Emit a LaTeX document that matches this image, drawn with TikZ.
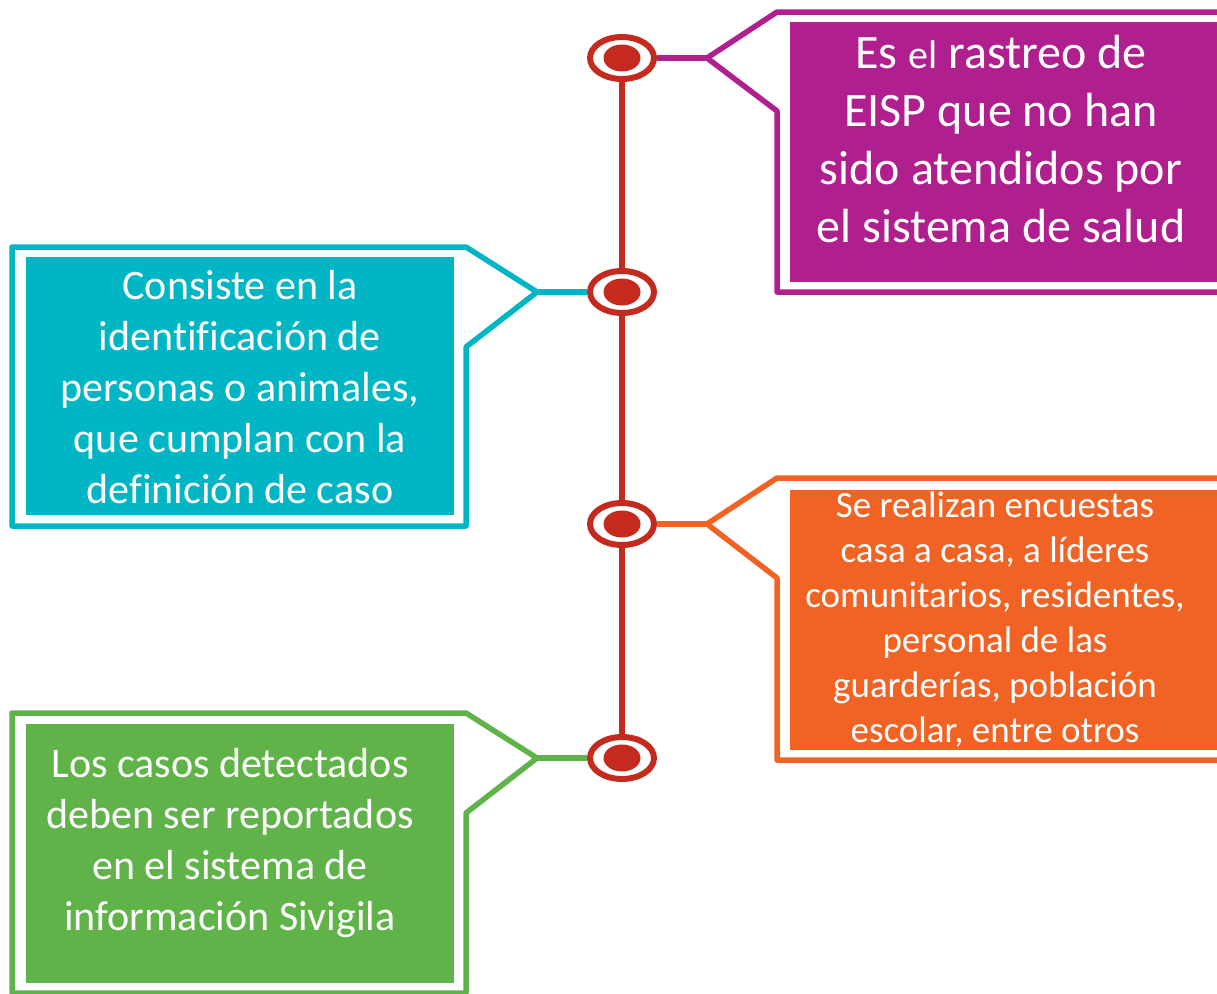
\documentclass[tikz,border=0pt]{standalone}
\usepackage{fontspec}
\setmainfont{Carlito}[Ligatures={TeX,NoCommon}]
\usetikzlibrary{shapes.geometric}
\definecolor{dotred}{RGB}{196,43,30}
\definecolor{purp}{RGB}{176,31,142}
\definecolor{cyanbox}{RGB}{0,182,196}
\definecolor{orangebox}{RGB}{241,99,36}
\definecolor{greenbox}{RGB}{96,179,72}
\tikzset{
  dot/.style={ellipse, draw=dotred, line width=6pt, fill=white, inner sep=0pt,
    minimum width=64pt, minimum height=42pt,
    path picture={\fill[dotred] (path picture bounding box.center) ellipse (18.5pt and 13.5pt);}},
  outline/.style={line width=5.5pt, line join=round},
  txt/.style={text=white, align=center, inner sep=0pt},
}
\begin{document}
\begin{tikzpicture}[x=1pt,y=-1pt]
    \clip (0,0) rectangle (1217,993);
    % boxes
    \fill[purp] (790,22) rectangle (1230,282);
    \fill[cyanbox] (26,257) rectangle (454,515);
    \fill[orangebox] (790,490) rectangle (1230,750);
    \fill[greenbox] (26,724) rectangle (454,983);
    % callout tips
    \coordinate (tip-1) at (707,58);
    \coordinate (tip-2) at (537,292);
    \coordinate (tip-3) at (707,524);
    \coordinate (tip-4) at (537,758);
    \draw[outline, purp] (1230,12) -- (777,12) -- (tip-1) -- (777,111) -- (777,292) -- (1230,292);
    \draw[outline, cyanbox] (466,247) -- (12,247) -- (12,526) -- (466,526) -- (466,347) -- (tip-2) -- cycle;
    \draw[outline, orangebox] (1230,478) -- (777,478) -- (tip-3) -- (777,578) -- (777,760) -- (1230,760);
    \draw[outline, greenbox] (466,713) -- (12,713) -- (12,993) -- (466,993) -- (466,813) -- (tip-4) -- cycle;
    % timeline
    \node[dot] (dot-1) at (622,58) {};
    \node[dot] (dot-2) at (622,292) {};
    \node[dot] (dot-3) at (622,524) {};
    \node[dot] (dot-4) at (622,758) {};
    \draw[dotred, line width=6pt] (dot-1) -- (dot-2);
    \draw[dotred, line width=6pt] (dot-2) -- (dot-3);
    \draw[dotred, line width=6pt] (dot-3) -- (dot-4);
    \draw[outline, purp] (dot-1) -- (tip-1);
    \draw[outline, cyanbox] (dot-2) -- (tip-2);
    \draw[outline, orangebox] (dot-3) -- (tip-3);
    \draw[outline, greenbox] (dot-4) -- (tip-4);
    % texts
    \node[txt, font=\fontsize{48}{58}\selectfont] (text-1) at (1001,139)
      {Es {\fontsize{40}{58}\selectfont el} rastreo de\\EISP que no han\\sido atendidos por\\el sistema de salud};
    \node[txt, font=\fontsize{42}{51}\selectfont] (text-2) at (240,387)
      {Consiste en la\\identificación de\\personas o animales,\\que cumplan con la\\definición de caso};
    \node[txt, font=\fontsize{37}{45}\selectfont] (text-3) at (995,620)
      {Se realizan encuestas\\casa a casa, a líderes\\comunitarios, residentes,\\personal de las\\guarderías, población\\escolar, entre otros};
    \node[txt, font=\fontsize{42}{51}\selectfont] (text-4) at (230,843)
      {Los casos detectados\\deben ser reportados\\en el sistema de\\información Sivigila};
\end{tikzpicture}
\end{document}
